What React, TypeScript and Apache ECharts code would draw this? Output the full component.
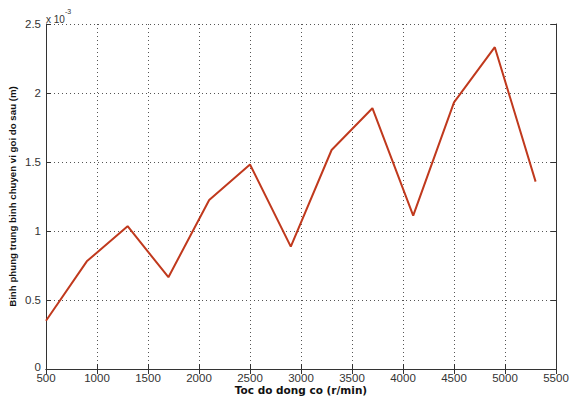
import React, { useEffect, useRef } from "react";
import * as echarts from "echarts";

// Engine speed (r/min)
const speeds = [500, 900, 1300, 1700, 2100, 2500, 2900, 3300, 3700, 4100, 4500, 4900, 5300];
// Mean-square bearing displacement, in units of 10^-3 m
const displacement = [0.35, 0.78, 1.035, 0.665, 1.225, 1.482, 0.887, 1.587, 1.89, 1.112, 1.932, 2.332, 1.358];

const xTicks = { min: 500, max: 5500, interval: 500 };
const yTicks = { min: 0, max: 2.5, interval: 0.5 };

const xTitle = "Toc do dong co (r/min)";
const yTitle = "Binh phung trung binh chuyen vi goi do sau (m)";

const FONT = "Liberation Sans, Arial, sans-serif";

export default function App() {
  const ref = useRef<HTMLDivElement>(null);

  useEffect(() => {
    if (!ref.current) return;
    const chart = echarts.init(ref.current, undefined, { renderer: "svg" });
    const gridLine = { show: true, lineStyle: { color: "#555", type: [1, 3] as any, width: 1 } };
    const axisLine = { show: true, lineStyle: { color: "#333", width: 1 } };
    const tick = { show: true, inside: true, length: 5, lineStyle: { color: "#333" } };
    const label = { color: "#333", fontSize: 11.5, fontFamily: FONT };

    chart.setOption({
      animation: false,
      backgroundColor: "#fff",
      grid: { left: 46, right: 15, top: 24, bottom: 28, containLabel: false, outerBoundsMode: "none" },
      xAxis: [
        {
          type: "value",
          min: xTicks.min,
          max: xTicks.max,
          interval: xTicks.interval,
          position: "bottom",
          axisLine,
          axisTick: tick,
          splitLine: gridLine,
          axisLabel: { ...label, margin: 3, formatter: (v: number) => String(v) },
          name: xTitle,
          nameLocation: "middle",
          nameGap: 15,
          nameMoveOverlap: false,
          nameTextStyle: { color: "#111", fontSize: 10.5, fontWeight: "bold", fontFamily: "DejaVu Sans, sans-serif" },
        },
        {
          type: "value",
          min: xTicks.min,
          max: xTicks.max,
          interval: xTicks.interval,
          position: "top",
          axisLine,
          axisTick: tick,
          splitLine: { show: false },
          axisLabel: { show: false },
        },
      ],
      yAxis: [
        {
          type: "value",
          min: yTicks.min,
          max: yTicks.max,
          interval: yTicks.interval,
          position: "left",
          axisLine,
          axisTick: tick,
          splitLine: gridLine,
          axisLabel: {
            ...label,
            margin: 5,
            formatter: (v: number) => (v === 0 ? "{z|0}" : String(v)),
            rich: { z: { ...label, padding: [0, 0, 5, 0] } },
          },
          name: yTitle,
          nameLocation: "middle",
          nameGap: 29,
          nameMoveOverlap: false,
          nameRotate: 90,
          nameTextStyle: { color: "#111", fontSize: 9.7, fontWeight: "bold", fontFamily: FONT },
        },
        {
          type: "value",
          min: yTicks.min,
          max: yTicks.max,
          interval: yTicks.interval,
          position: "right",
          axisLine,
          axisTick: tick,
          splitLine: { show: false },
          axisLabel: { show: false },
        },
      ],
      graphic: [
        {
          type: "text",
          left: 46,
          top: 8,
          style: {
            text: "{b|x 10}{s|-3}",
            rich: {
              b: { fontSize: 10, fontFamily: FONT, fill: "#333", verticalAlign: "bottom", padding: [6, 0, 0, 0] },
              s: { fontSize: 7, fontFamily: FONT, fill: "#333", verticalAlign: "top" },
            },
          },
        },
      ],
      series: [
        {
          type: "line",
          xAxisIndex: 0,
          yAxisIndex: 0,
          data: speeds.map((s, i) => [s, displacement[i]]),
          symbol: "none",
          lineStyle: { color: "#c0391d", width: 2 },
        },
      ],
    });
    return () => chart.dispose();
  }, []);

  return <div ref={ref} style={{ width: 571, height: 397, position: "absolute", left: 0, top: 0 }} />;
}
